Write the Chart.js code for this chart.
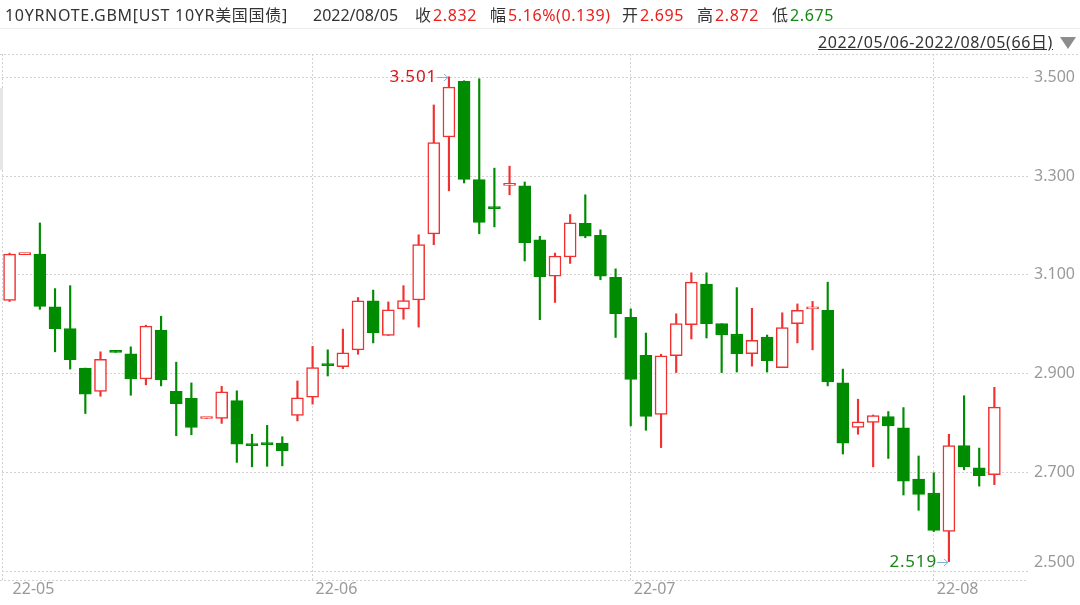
<!DOCTYPE html>
<html>
<head>
<meta charset="utf-8">
<script src="https://cdn.jsdelivr.net/npm/chart.js@4.4.0/dist/chart.umd.min.js"></script>
<style>
  body { margin: 0; background: #fff; font-family: "Noto Sans", "Noto Sans CJK SC", sans-serif; }
  #wrap { position: relative; width: 1080px; height: 605px; overflow: hidden; }
  #wrap canvas { position: absolute; left: 0; top: 0; }
  .hd { position: absolute; top: 4px; font-size: 16px; line-height: 22px; color: #333; white-space: nowrap; }
  .hd span { letter-spacing: 0.6px; }
  .lab { margin-right: 2px; font-weight: normal; }
  .up { color: #e8201e; }
  .down { color: #138a13; }
  #sep { position: absolute; left: 0; top: 28px; width: 1080px; height: 1px; background: #ececec; }
  #range { position: absolute; right: 27px; top: 31px; font-size: 16px; line-height: 22px; color: #333; text-decoration: underline; white-space: nowrap; letter-spacing: 0.6px; }
  #tri { position: absolute; left: 1060px; top: 37px; width: 0; height: 0; border-left: 8px solid transparent; border-right: 8px solid transparent; border-top: 12px solid #8c8c8c; }
  #side { position: absolute; left: 0; top: 88px; width: 3px; height: 82px; background: #e6e6e6; }
</style>
</head>
<body>
<div id="wrap">
  <canvas id="chart" width="1080" height="605"></canvas>
  <div class="hd" style="left:5px;letter-spacing:0.7px">10YRNOTE.GBM[UST 10YR美国国债]</div>
  <div class="hd" style="left:313px">2022/08/05</div>
  <div class="hd" style="left:415px"><b class="lab">收</b><span id="vClose" class="up"></span></div>
  <div class="hd" style="left:490px"><b class="lab">幅</b><span id="vChg" class="up"></span></div>
  <div class="hd" style="left:622px"><b class="lab">开</b><span id="vOpen"></span></div>
  <div class="hd" style="left:697px"><b class="lab">高</b><span id="vHigh"></span></div>
  <div class="hd" style="left:772px"><b class="lab">低</b><span id="vLow"></span></div>
  <div id="sep"></div>
  <div id="range">2022/05/06-2022/08/05(66日)</div>
  <div id="tri"></div>
  <div id="side"></div>
</div>
<script>
// daily candles, 2022/05/06 - 2022/08/05
const months = ['22-05', '22-06', '22-07', '22-08'];
const monthStart = [0, 20, 41, 61];

const opens = [
  3.048, 3.141, 3.142, 3.035, 2.991, 2.911, 2.864, 2.945, 2.940, 2.889,
  2.988, 2.864, 2.850, 2.809, 2.809, 2.845, 2.756, 2.759, 2.759, 2.815,
  2.852, 2.919, 2.914, 2.948, 3.047, 2.977, 3.031, 3.049, 3.183, 3.379,
  3.492, 3.293, 3.238, 3.281, 3.280, 3.171, 3.097, 3.136, 3.204, 3.180,
  3.095, 3.014, 2.937, 2.817, 2.936, 2.999, 3.081, 3.001, 2.980, 2.940,
  2.974, 2.912, 3.001, 3.031, 3.028, 2.881, 2.791, 2.801, 2.813, 2.790,
  2.686, 2.658, 2.580, 2.754, 2.709, 2.695
];
const highs = [
  3.144, 3.143, 3.205, 3.072, 3.078, 2.911, 2.944, 2.945, 2.954, 2.998,
  3.016, 2.923, 2.881, 2.810, 2.874, 2.865, 2.777, 2.795, 2.772, 2.885,
  2.955, 2.948, 2.990, 3.054, 3.069, 3.045, 3.078, 3.181, 3.444, 3.501,
  3.493, 3.497, 3.316, 3.320, 3.288, 3.178, 3.144, 3.222, 3.262, 3.191,
  3.112, 3.031, 2.982, 2.939, 3.021, 3.104, 3.104, 3.001, 3.074, 3.032,
  2.978, 3.023, 3.041, 3.046, 3.085, 2.909, 2.848, 2.816, 2.823, 2.831,
  2.733, 2.699, 2.777, 2.855, 2.749, 2.872
];
const lows = [
  3.046, 3.141, 3.030, 2.944, 2.909, 2.819, 2.854, 2.943, 2.856, 2.877,
  2.875, 2.774, 2.776, 2.809, 2.799, 2.720, 2.711, 2.712, 2.713, 2.804,
  2.838, 2.895, 2.910, 2.939, 2.962, 2.977, 3.010, 2.994, 3.161, 3.270,
  3.286, 3.183, 3.197, 3.262, 3.128, 3.009, 3.044, 3.123, 3.175, 3.090,
  2.973, 2.794, 2.785, 2.750, 2.902, 2.970, 2.972, 2.902, 2.903, 2.915,
  2.903, 2.912, 2.962, 2.948, 2.875, 2.737, 2.777, 2.711, 2.728, 2.654,
  2.623, 2.580, 2.519, 2.705, 2.672, 2.675
];
const closes = [
  3.142, 3.142, 3.036, 2.991, 2.928, 2.858, 2.929, 2.943, 2.889, 2.996,
  2.887, 2.839, 2.791, 2.810, 2.863, 2.757, 2.754, 2.756, 2.744, 2.851,
  2.912, 2.916, 2.942, 3.047, 2.983, 3.029, 3.048, 3.161, 3.368, 3.480,
  3.293, 3.206, 3.234, 3.283, 3.165, 3.096, 3.138, 3.205, 3.178, 3.097,
  3.021, 2.888, 2.813, 2.936, 3.001, 3.085, 3.001, 2.978, 2.940, 2.967,
  2.926, 2.993, 3.028, 3.033, 2.883, 2.759, 2.802, 2.815, 2.794, 2.682,
  2.655, 2.582, 2.754, 2.711, 2.693, 2.832
];
const yTicks = [2.5, 2.7, 2.9, 3.1, 3.3, 3.5];

const RED = '#f23030';
const GREEN = '#008c00';
const GRID = '#d2d2d2';

// header values from the last candle
const n = closes.length;
const last = closes[n - 1], prev = closes[n - 2];
const chg = last - prev;
const cls = v => v >= prev ? 'up' : 'down';
document.getElementById('vClose').textContent = last.toFixed(3);
document.getElementById('vChg').textContent = (chg / prev * 100).toFixed(2) + '%(' + chg.toFixed(3) + ')';
[['vOpen', opens[n - 1]], ['vHigh', highs[n - 1]], ['vLow', lows[n - 1]]].forEach(([id, v]) => {
  const el = document.getElementById(id);
  el.textContent = v.toFixed(3);
  el.className = cls(v);
});

const isUp = closes.map((c, i) => c >= opens[i]);

const extras = {
  id: 'extras',
  beforeDatasetsDraw(chart) {
    const { ctx, chartArea: a } = chart;
    ctx.save();
    ctx.strokeStyle = GRID;
    ctx.lineWidth = 1;
    ctx.setLineDash([2, 2]);
    ctx.beginPath();
    ctx.moveTo(0, a.top + 0.5); ctx.lineTo(1080, a.top + 0.5);
    ctx.moveTo(0, a.bottom + 0.5); ctx.lineTo(a.right, a.bottom + 0.5);
    ctx.moveTo(a.left + 0.5, a.top); ctx.lineTo(a.left + 0.5, a.bottom);
    ctx.stroke();
    ctx.restore();
  },
  afterDraw(chart) {
    const { ctx, chartArea: a, scales: { x, y } } = chart;
    ctx.save();
    ctx.font = '16px "Noto Sans"';
    ctx.fillStyle = '#9a9a9a';
    ctx.textAlign = 'right';
    ctx.textBaseline = 'middle';
    yTicks.forEach(v => {
      const py = Math.min(y.getPixelForValue(v), a.bottom - 18);
      ctx.fillText(v.toFixed(3), 1075, py);
    });

    // max / min markers
    ctx.font = '17px "Noto Sans"';
    if ('letterSpacing' in ctx) ctx.letterSpacing = '0.8px';
    const mark = (i, v, color) => {
      const px = x.getPixelForValue(i), py = Math.round(y.getPixelForValue(v)) + 0.5;
      ctx.strokeStyle = '#7fb4d2';
      ctx.lineWidth = 1;
      ctx.beginPath();
      ctx.moveTo(px - 12, py); ctx.lineTo(px - 1, py);
      ctx.moveTo(px - 5, py - 3.5); ctx.lineTo(px - 1, py); ctx.lineTo(px - 5, py + 3.5);
      ctx.stroke();
      ctx.fillStyle = color;
      ctx.textAlign = 'right';
      ctx.fillText(v.toFixed(3), px - 12, py);
    };
    const hi = Math.max(...highs), lo = Math.min(...lows);
    mark(highs.indexOf(hi), hi, '#d4161c');
    mark(lows.indexOf(lo), lo, '#1a861a');
    ctx.restore();
  }
};

new Chart(document.getElementById('chart'), {
  type: 'bar',
  data: {
    datasets: [
      {
        data: lows.map((l, i) => ({ x: i, y: [l, highs[i]] })),
        backgroundColor: isUp.map(u => u ? RED : GREEN),
        borderWidth: 0,
        barThickness: 1.5,
        grouped: false,
        order: 2
      },
      {
        data: opens.map((o, i) => ({ x: i, y: [o, closes[i]] })),
        backgroundColor: isUp.map(u => u ? '#ffffff' : GREEN),
        borderColor: isUp.map(u => u ? RED : GREEN),
        borderWidth: 1.5,
        borderSkipped: false,
        barThickness: 12,
        minBarLength: 2,
        grouped: false,
        order: 1
      }
    ]
  },
  options: {
    responsive: false,
    animation: false,
    events: [],
    layout: { padding: { top: 54, left: 2, right: 0, bottom: 0 } },
    plugins: { legend: { display: false }, tooltip: { enabled: false } },
    scales: {
      x: {
        type: 'linear',
        offset: false,
        min: -0.5,
        max: 67.22,
        afterBuildTicks: s => { s.ticks = monthStart.map(v => ({ value: v })); },
        afterFit: s => { s.height = 25; },
        grid: {
          offset: false,
          color: c => (c.tick && c.tick.value === 0) ? 'rgba(0,0,0,0)' : GRID,
          drawTicks: false
        },
        border: { display: false, dash: [2, 2] },
        ticks: {
          autoSkip: false,
          maxRotation: 0,
          align: 'start',
          labelOffset: 3,
          padding: 0,
          color: '#9a9a9a',
          font: { family: 'Noto Sans', size: 16 },
          callback: v => months[monthStart.indexOf(v)]
        }
      },
      y: {
        position: 'right',
        min: 2.4818,
        max: 3.5472,
        afterBuildTicks: s => { s.ticks = yTicks.map(v => ({ value: v })); },
        afterFit: s => { s.width = 52; },
        grid: { color: GRID, drawTicks: false },
        border: { display: false, dash: [2, 2] },
        ticks: { display: false }
      }
    }
  },
  plugins: [extras]
});
</script>
</body>
</html>
